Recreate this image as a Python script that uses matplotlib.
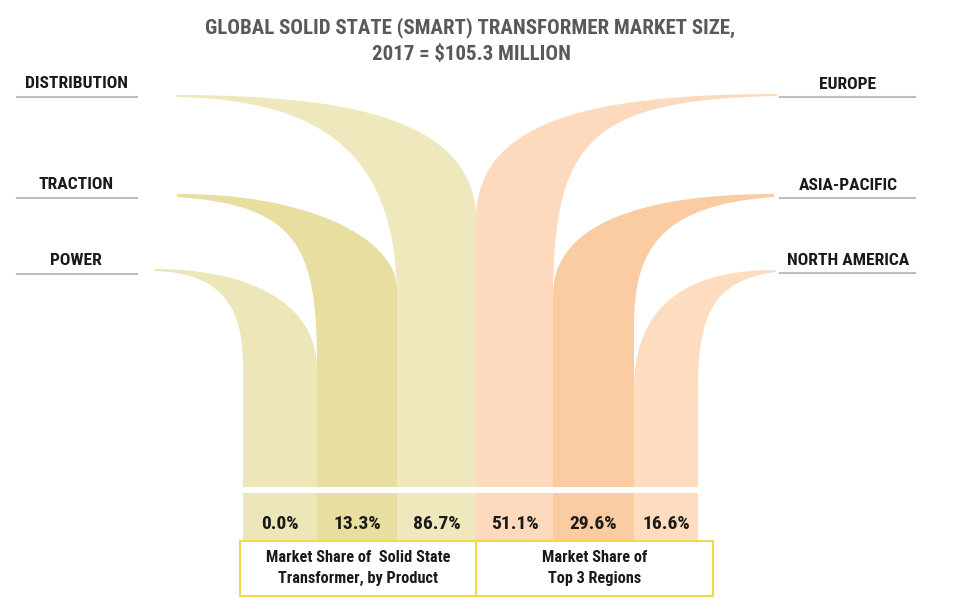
import matplotlib
matplotlib.use('Agg')
import matplotlib.pyplot as plt
from matplotlib.path import Path
from matplotlib.patches import PathPatch, Rectangle
from matplotlib import font_manager

# chart data
title_lines = ['GLOBAL SOLID STATE (SMART) TRANSFORMER MARKET SIZE,',
               '2017 = $105.3 MILLION']
products = ['POWER', 'TRACTION', 'DISTRIBUTION']
product_share = [0.0, 13.3, 86.7]
regions = ['EUROPE', 'ASIA-PACIFIC', 'NORTH AMERICA']
region_share = [51.1, 29.6, 16.6]
box_labels = ['Market Share of  Solid State\nTransformer, by Product',
              'Market Share of\nTop 3 Regions']

# pick a narrow font if one is installed
installed = {f.name for f in font_manager.fontManager.ttflist}
font = 'Liberation Sans'
for cand in ['Roboto Condensed', 'Liberation Sans Narrow', 'Open Sans Condensed']:
    if cand in installed:
        font = cand
        break
plt.rcParams['font.family'] = [font, 'DejaVu Sans']

# layout in pixel units (y grows downwards)
col_edges = [243, 317, 397, 476, 553, 634, 698]
col_colors = ['#EDE6B9', '#E7DEA0', '#EEE8BC', '#FDDABD', '#FBCBA1', '#FDDCBF']
gap_top, low_top, low_bottom = 487, 493, 540

# leaf outlines: tip, curve to first column edge, then back from second edge
leaf_shapes = {
    'POWER':        [(155, 269), (245, 269), (317, 300), (317, 370),
                     (243, 365), (243, 300), (215, 273), (155, 271)],
    'TRACTION':     [(177, 194), (300, 193), (397, 235), (397, 290),
                     (317, 365), (317, 250), (300, 205), (177, 197)],
    'DISTRIBUTION': [(177, 95), (380, 95), (477, 130), (477, 225),
                     (397, 300), (397, 160), (330, 100), (177, 97)],
    'EUROPE':       [(777, 94), (580, 94), (476, 125), (476, 220),
                     (553, 300), (553, 140), (590, 100), (777, 96)],
    'ASIA-PACIFIC': [(774, 194), (640, 194), (553, 225), (553, 295),
                     (634, 325), (634, 250), (660, 205), (774, 197)],
    'NORTH AMERICA': [(776, 270), (700, 270), (634, 295), (634, 390),
                      (698, 390), (698, 320), (710, 280), (776, 272)],
}

fig = plt.figure(figsize=(9.66, 6.16), dpi=100)
ax = fig.add_axes([0, 0, 1, 1])
ax.set_xlim(0, 966)
ax.set_ylim(616, 0)
ax.axis('off')

names = products + regions
shares = product_share + region_share
lefts = col_edges[:-1]
widths = [col_edges[i + 1] - col_edges[i] for i in range(len(names))]
centers = [l + w / 2 for l, w in zip(lefts, widths)]

# upper leaves
for i, name in enumerate(names):
    p = leaf_shapes[name]
    verts = [p[0], p[1], p[2], p[3], (p[3][0], gap_top), (p[4][0], gap_top),
             p[4], p[5], p[6], p[7], p[0]]
    codes = [Path.MOVETO, Path.CURVE4, Path.CURVE4, Path.CURVE4,
             Path.LINETO, Path.LINETO, Path.LINETO,
             Path.CURVE4, Path.CURVE4, Path.CURVE4, Path.CLOSEPOLY]
    ax.add_patch(PathPatch(Path(verts, codes), facecolor=col_colors[i],
                           edgecolor='none', zorder=2))

# lower strip with the values
ax.bar(centers, low_bottom - low_top, bottom=low_top, width=widths,
       color=col_colors, edgecolor='none', zorder=2)
for c, v in zip(centers, shares):
    ax.text(c, 529, f'{v:.1f}%', ha='center', va='baseline', fontsize=14,
            fontweight='bold', color='#1a1a1a', zorder=3)

# boxes under the strip
box_x = [240, 476]
box_w = [236, 237]
for x, w, txt in zip(box_x, box_w, box_labels):
    ax.add_patch(Rectangle((x, 541), w, 55, facecolor='white',
                           edgecolor='#F3D94A', lw=1.5, zorder=3))
    ax.text(x + w / 2, 568, txt, ha='center', va='center', fontsize=11.7,
            fontweight='bold', color='#1a1a1a', linespacing=1.45, zorder=4)

# side labels with underlines
label_y = {'DISTRIBUTION': 88, 'TRACTION': 189, 'POWER': 265,
           'EUROPE': 89, 'ASIA-PACIFIC': 190, 'NORTH AMERICA': 265}
for name in products:
    y = label_y[name]
    ax.text(76, y, name, ha='center', va='baseline', fontsize=12.6,
            fontweight='bold', color='#1a1a1a')
    ax.plot([17, 137], [y + 9, y + 9], color='#BDBDBD', lw=1.5)
for name in regions:
    y = label_y[name]
    ax.text(848, y, name, ha='center', va='baseline', fontsize=12.6,
            fontweight='bold', color='#1a1a1a')
    ax.plot([780, 915], [y + 8, y + 8], color='#BDBDBD', lw=1.5)

# title
ax.text(470, 33, title_lines[0], ha='center', va='baseline', fontsize=15,
        fontweight='bold', color='#595959')
ax.text(471, 60, title_lines[1], ha='center', va='baseline', fontsize=15,
        fontweight='bold', color='#595959')

fig.savefig('out.png', dpi=100)
